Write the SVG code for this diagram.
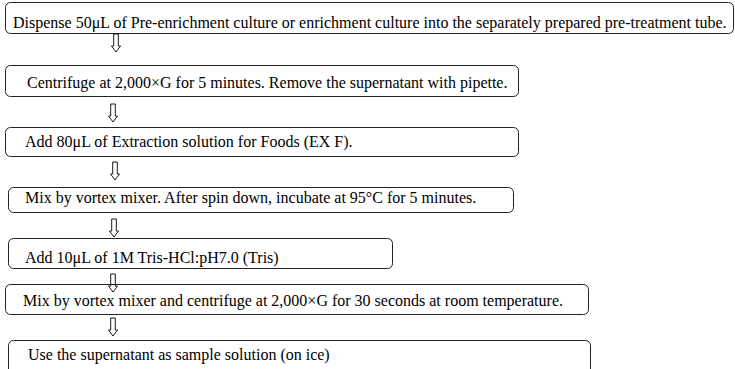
<svg xmlns="http://www.w3.org/2000/svg" width="735" height="369" viewBox="0 0 735 369">
<style>
.box{fill:#fff;stroke:#222;stroke-width:1}
.t{font-family:"Liberation Serif","Times New Roman",serif;font-size:16px;fill:#000}
.arr{fill:none;stroke:#000;stroke-width:0.9}
</style>
<defs>
<path id="ar" d="M-2.3,0 H2.3 V12 H4.5 L0,18 L-4.5,12 H-2.3 Z"/>
</defs>
<rect width="735" height="369" fill="#fff"/>
<g id="n1"><rect class="box" x="5.5" y="2.5" width="728" height="31" rx="5"/><text class="t" x="13" y="28">Dispense 50μL of Pre-enrichment culture or enrichment culture into the separately prepared pre-treatment tube.</text></g>
<g id="n2"><rect class="box" x="5.5" y="65.5" width="513" height="31" rx="5"/><text class="t" x="27" y="88">Centrifuge at 2,000×G for 5 minutes. Remove the supernatant with pipette.</text></g>
<g id="n3"><rect class="box" x="5.5" y="127.5" width="513" height="29" rx="5"/><text class="t" x="25" y="147">Add 80μL of Extraction solution for Foods (EX F).</text></g>
<g id="n4"><rect class="box" x="8.5" y="187.5" width="505" height="25" rx="5"/><text class="t" x="25" y="203">Mix by vortex mixer. After spin down, incubate at 95°C for 5 minutes.</text></g>
<g id="n5"><rect class="box" x="8.5" y="238.5" width="384" height="30" rx="5"/><text class="t" x="25" y="263">Add 10μL of 1M Tris-HCl:pH7.0 (Tris)</text></g>
<g id="n6"><rect class="box" x="5.5" y="284.5" width="583" height="30" rx="5"/><text class="t" x="23" y="306">Mix by vortex mixer and centrifuge at 2,000×G for 30 seconds at room temperature.</text></g>
<g id="n7"><rect class="box" x="8.5" y="340.5" width="582" height="40" rx="5"/><text class="t" x="28" y="360">Use the supernatant as sample solution (on ice)</text></g>
<g id="connectors">
<use href="#ar" class="arr" x="116" y="34"/>
<use href="#ar" class="arr" x="113" y="104"/>
<use href="#ar" class="arr" x="115" y="162"/>
<use href="#ar" class="arr" x="114" y="219"/>
<use href="#ar" class="arr" x="113" y="274"/>
<use href="#ar" class="arr" x="113" y="318"/>
</g>
</svg>
